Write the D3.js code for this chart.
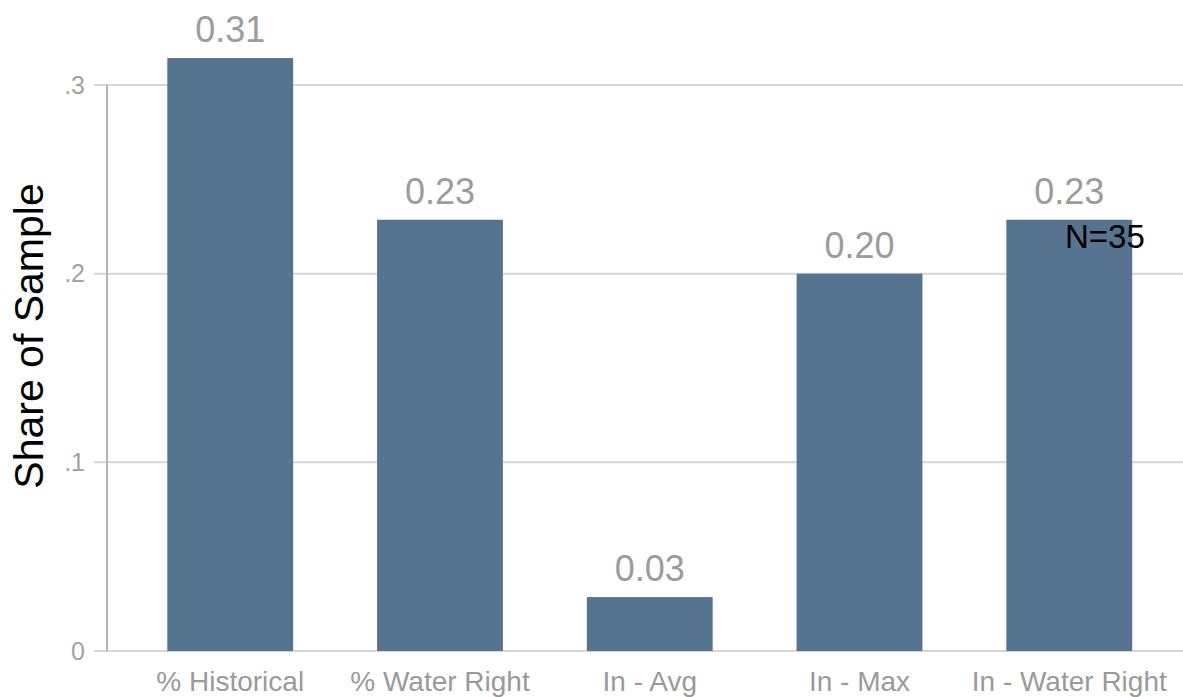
<!DOCTYPE html>
<html>
<head>
<meta charset="utf-8">
<script src="https://cdn.jsdelivr.net/npm/d3@7"></script>
<style>
  html, body { margin: 0; padding: 0; background: #fff; }
  svg { display: block; font-family: "Liberation Sans", Arial, sans-serif; }
</style>
</head>
<body>
<svg id="chart" width="1183" height="697"></svg>
<script>
// Share of sample by method (N = 35)
const categories = ["% Historical", "% Water Right", "In - Avg", "In - Max", "In - Water Right"];
const counts = [11, 8, 1, 7, 8];
const sampleSize = 35;
const shares = counts.map(c => c / sampleSize);
const yTicks = [0, 0.1, 0.2, 0.3];
const yTickLabels = ["0", ".1", ".2", ".3"];

const svg = d3.select("#chart");
const W = 1183, H = 697;

const axisX = 107;
const y = d3.scaleLinear().domain([0, 0.3]).range([651, 85]);
const x = d3.scaleBand()
  .domain(categories)
  .range([axisX, 1192.5])
  .paddingInner(0.4)
  .paddingOuter(0.2875);

// gridlines (including the zero baseline)
svg.append("g")
  .selectAll("line")
  .data(yTicks)
  .join("line")
  .attr("x1", 94)
  .attr("x2", W)
  .attr("y1", d => y(d))
  .attr("y2", d => y(d))
  .attr("stroke", "#d6d6d6")
  .attr("stroke-width", 2);

// y axis line
svg.append("line")
  .attr("x1", axisX).attr("x2", axisX)
  .attr("y1", y(0.3)).attr("y2", y(0))
  .attr("stroke", "#b4b4b4")
  .attr("stroke-width", 2);

// y tick labels
svg.append("g")
  .selectAll("text")
  .data(yTicks)
  .join("text")
  .attr("x", 85)
  .attr("y", d => y(d))
  .attr("dy", "0.35em")
  .attr("text-anchor", "end")
  .attr("font-size", 25)
  .attr("fill", "#a3a3a3")
  .text((d, i) => yTickLabels[i]);

// bars
svg.append("g")
  .selectAll("rect")
  .data(categories)
  .join("rect")
  .attr("x", d => x(d))
  .attr("width", x.bandwidth())
  .attr("y", (d, i) => y(shares[i]))
  .attr("height", (d, i) => y(0) - y(shares[i]))
  .attr("fill", "#56738f");

// value labels above bars
svg.append("g")
  .selectAll("text")
  .data(categories)
  .join("text")
  .attr("x", d => x(d) + x.bandwidth() / 2)
  .attr("y", (d, i) => y(shares[i]) - 16)
  .attr("text-anchor", "middle")
  .attr("font-size", 36)
  .attr("fill", "#9c9c9c")
  .text((d, i) => shares[i].toFixed(2));

// category labels
svg.append("g")
  .selectAll("text")
  .data(categories)
  .join("text")
  .attr("x", d => x(d) + x.bandwidth() / 2)
  .attr("y", 691)
  .attr("text-anchor", "middle")
  .attr("font-size", 28)
  .attr("fill", "#9a9a9a")
  .text(d => d);

// y axis title
svg.append("text")
  .attr("transform", "translate(43,336) rotate(-90)")
  .attr("text-anchor", "middle")
  .attr("font-size", 41)
  .attr("fill", "#000")
  .text("Share of Sample");

// sample size note
svg.append("text")
  .attr("x", 1065)
  .attr("y", 248)
  .attr("font-size", 33)
  .attr("fill", "#000")
  .text("N=" + sampleSize);
</script>
</body>
</html>
